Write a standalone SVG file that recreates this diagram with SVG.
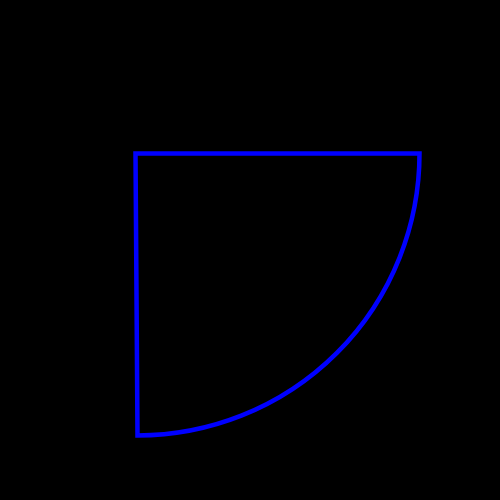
<svg xmlns="http://www.w3.org/2000/svg" width="500" height="500" viewBox="0 0 500 500">
<style>.s{fill:none;stroke:#0000ff;stroke-width:4.5;stroke-linejoin:miter}</style>
<rect width="500" height="500" fill="#000"/>
<path class="s" d="M135.5,153.5 L419.5,153.5 A282,282 0 0 1 137.5,435.5 Z"/>
</svg>
